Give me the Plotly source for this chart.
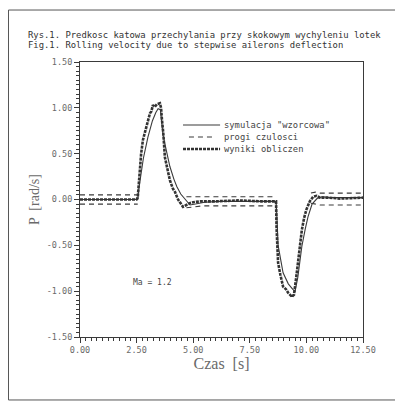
import plotly.graph_objects as go

# ---- data ----
t_ref = [0, 2.55, 2.6, 2.8, 3.0, 3.2, 3.35, 3.45, 3.55, 3.67, 3.8, 3.97, 4.15, 4.28, 4.45, 4.64, 4.86, 5.1, 5.5, 6.2, 8.66,
         8.7, 8.75, 8.97, 9.2, 9.4, 9.5, 9.62, 9.8, 9.95, 10.07, 10.25, 10.47, 10.7, 11.0, 11.5, 12.5]
v_ref = [0.0, 0.0, 0.12, 0.45, 0.68, 0.86, 0.95, 0.99, 0.98, 0.70, 0.55, 0.36, 0.22, 0.14, 0.06, 0.0, -0.06, -0.05, -0.03, -0.02, -0.02,
         -0.2, -0.5, -0.8, -0.92, -0.98, -1.0, -0.85, -0.51, -0.32, -0.19, -0.05, 0.01, 0.03, 0.02, 0.02, 0.02]

t_sim = [0, 2.5, 2.55, 2.62, 2.7, 2.78, 2.88, 2.98, 3.09, 3.15, 3.22, 3.3, 3.4, 3.53, 3.58, 3.62, 3.68, 3.75, 3.85, 3.97, 4.1,
         4.2, 4.33, 4.45, 4.55, 4.7, 4.85, 5.0, 5.3, 6.0, 7.0, 8.0, 8.66,
         8.68, 8.75, 8.85, 8.97, 9.1, 9.2, 9.36, 9.45, 9.55, 9.63, 9.72, 9.8, 9.9, 10.0, 10.15, 10.3, 10.45, 10.6, 11.0, 11.5, 12.5]
v_sim = [0.0, 0.0, 0.02, 0.3, 0.5, 0.65, 0.74, 0.85, 0.94, 0.96, 1.03, 1.01, 1.04, 1.05, 1.0, 0.87, 0.72, 0.46, 0.36, 0.21, 0.12,
         0.08, 0.0, -0.05, -0.08, -0.06, -0.04, -0.03, -0.02, -0.02, -0.01, -0.02, -0.02,
         -0.3, -0.69, -0.82, -0.95, -0.98, -1.02, -1.06, -1.04, -0.85, -0.69, -0.5, -0.33, -0.2, -0.11, -0.02, 0.03, 0.04, 0.02, 0.02, 0.01, 0.02]

t_band = [0, 2.55, None, 4.7, 5.0, 5.4, 6.5, 8.66, None, 10.2, 10.4, 10.6, 11.0, 12.5]
v_band_hi = [0.05, 0.05, None, 0.03, 0.03, 0.03, 0.03, 0.03, None, 0.07, 0.08, 0.07, 0.07, 0.07]
v_band_lo = [-0.05, -0.05, None, -0.09, -0.08, -0.07, -0.07, -0.07, None, -0.04, -0.05, -0.06, -0.06, -0.06]

x_ticks = [0, 2.5, 5.0, 7.5, 10.0, 12.5]
x_ticklabels = ["0.00", "2.50", "5.00", "7.50", "10.00", "12.50"]
y_ticks = [-1.5, -1.0, -0.5, 0.0, 0.5, 1.0, 1.5]
y_ticklabels = ["-1.50", "-1.00", "-0.50", "0.00", "0.50", "1.00", "1.50"]

series_names = ['symulacja "wzorcowa"', "progi czulosci", "wyniki obliczen"]

title1 = "Rys.1. Predkosc katowa przechylania przy skokowym wychyleniu lotek"
title2 = "Fig.1. Rolling velocity due to stepwise ailerons deflection"

mono = "DejaVu Sans Mono"
grey = "#6a6a6a"
dark = "#3a3a3a"
styles = [dict(color=dark, width=1.1),
          dict(color=dark, width=1.1, dash="5px,4px"),
          dict(color="#333333", width=2.6, dash="3px,1px")]

fig = go.Figure()
fig.add_trace(go.Scatter(x=t_ref, y=v_ref, mode="lines", name=series_names[0], line=styles[0]))
fig.add_trace(go.Scatter(x=t_band, y=v_band_hi, mode="lines", name=series_names[1], line=styles[1], connectgaps=False))
fig.add_trace(go.Scatter(x=t_band, y=v_band_lo, mode="lines", name=series_names[1], line=styles[1], connectgaps=False))
fig.add_trace(go.Scatter(x=t_sim, y=v_sim, mode="lines", name=series_names[2], line=styles[2]))

# manual compact legend (paper coords of plot area)
leg_rows = [0.7709, 0.7273, 0.6836]
shapes = [dict(type="rect", xref="paper", yref="paper", x0=-0.2527, x1=1.1237, y0=-0.229, y1=1.189,
               line=dict(color="#555", width=1))]
annotations = []
for i, name in enumerate(series_names):
    x0, x1 = (0.364, 0.495) if i != 1 else (0.385, 0.48)
    shapes.append(dict(type="line", xref="paper", yref="paper", x0=x0, x1=x1, y0=leg_rows[i], y1=leg_rows[i],
                       line=styles[i]))
    annotations.append(dict(text=name, xref="paper", yref="paper", x=0.505, y=leg_rows[i], xanchor="left",
                            yanchor="middle", showarrow=False, borderpad=0,
                            font=dict(family=mono, size=8.8, color="#444")))

annotations += [
    dict(text=title1, xref="paper", yref="paper", x=-0.187, y=1.099, xanchor="left", yanchor="middle",
         showarrow=False, borderpad=0, font=dict(family=mono, size=8.9, color="#333")),
    dict(text=title2, xref="paper", yref="paper", x=-0.187, y=1.063, xanchor="left", yanchor="middle",
         showarrow=False, borderpad=0, font=dict(family=mono, size=8.9, color="#333")),
    dict(text="Ma = 1.2", xref="x", yref="y", x=3.2, y=-0.91, showarrow=False,
         font=dict(family=mono, size=8, color="#444")),
]

fig.update_layout(
    width=395, height=394,
    margin=dict(l=72, r=40, t=54, b=65),
    paper_bgcolor="white", plot_bgcolor="white",
    font=dict(family=mono, color=grey, size=8),
    showlegend=False,
    xaxis=dict(range=[0, 12.5], tickvals=x_ticks, ticktext=x_ticklabels, ticks="outside", ticklen=5,
               tickcolor=dark, showline=True, linecolor=dark, linewidth=1, mirror=True, showgrid=False,
               zeroline=False, tickfont=dict(family=mono, size=8.5, color=grey),
               minor=dict(dtick=0.25, ticks="outside", ticklen=3, tickcolor=dark),
               title=dict(text="Czas  [s]", font=dict(family="Liberation Serif", size=16, color=grey), standoff=2)),
    yaxis=dict(range=[-1.5, 1.5], tickvals=y_ticks, ticktext=y_ticklabels, ticks="outside", ticklen=5,
               tickcolor=dark, showline=True, linecolor=dark, linewidth=1, mirror=True, showgrid=False,
               zeroline=False, tickfont=dict(family=mono, size=8.5, color=grey),
               minor=dict(dtick=0.05, ticks="outside", ticklen=3, tickcolor=dark),
               title=dict(text="P  [rad/s]", font=dict(family="Liberation Serif", size=14, color=grey), standoff=3)),
    annotations=annotations,
    shapes=shapes,
)

fig.write_html("out.html")
